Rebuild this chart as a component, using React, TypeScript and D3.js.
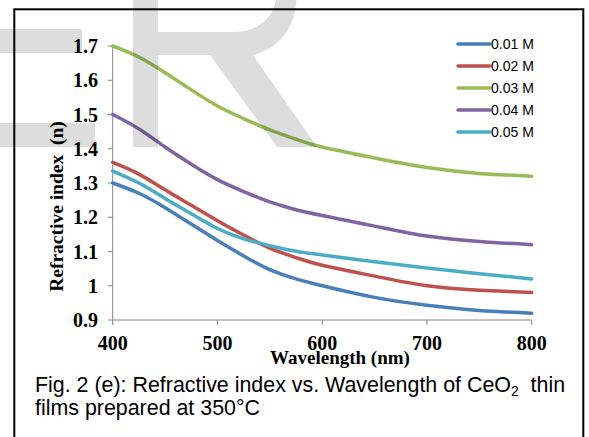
import React from 'react';
import * as d3 from 'd3';

const wavelengths = [400, 425, 450, 475, 500, 525, 550, 575, 600, 650, 700, 750, 800];
const n001 = [1.3, 1.27, 1.228, 1.18, 1.132, 1.087, 1.047, 1.02, 1.0, 0.966, 0.943, 0.928, 0.92];
const n002 = [1.36, 1.326, 1.28, 1.235, 1.19, 1.148, 1.11, 1.082, 1.06, 1.028, 1.0, 0.987, 0.98];
const n003 = [1.7, 1.668, 1.622, 1.572, 1.525, 1.488, 1.455, 1.428, 1.405, 1.373, 1.345, 1.328, 1.32];
const n004 = [1.5, 1.458, 1.405, 1.355, 1.31, 1.275, 1.245, 1.222, 1.205, 1.174, 1.145, 1.129, 1.12];
const n005 = [1.335, 1.3, 1.255, 1.21, 1.167, 1.137, 1.117, 1.101, 1.09, 1.07, 1.052, 1.035, 1.02];

const seriesNames = ['0.01 M', '0.02 M', '0.03 M', '0.04 M', '0.05 M'];
const seriesValues = [n001, n002, n003, n004, n005];
const seriesColors = ['#4a7ebb', '#c0504d', '#9bbb59', '#8064a2', '#4bacc6'];

const yTicks = [0.9, 1.0, 1.1, 1.2, 1.3, 1.4, 1.5, 1.6, 1.7];
const yTickLabels = ['0.9', '1', '1.1', '1.2', '1.3', '1.4', '1.5', '1.6', '1.7'];
const xTicks = [400, 500, 600, 700, 800];
const xTickLabels = ['400', '500', '600', '700', '800'];

const W = 589;
const H = 437;

export default function App() {
  const x = d3.scaleLinear().domain([400, 800]).range([112.7, 531.7]);
  const y = d3.scaleLinear().domain([0.9, 1.7]).range([320, 46]);
  const line = d3
    .line<number>()
    .x((_, i) => x(wavelengths[i]))
    .y((d) => y(d))
    .curve(d3.curveNatural);

  const axisColor = '#868686';
  const serif = '"Liberation Serif", "Times New Roman", serif';
  const sans = '"Liberation Sans", Arial, sans-serif';

  // watermark path (stylised R)
  const rPath =
    'M133,-10 L133,147 L158,147 L158,55 L210,55 L277,147 L317,147 L253,55 ' +
    'C280,48 297,28 297,-10 Z ' +
    'M158,-10 L158,32 L232,32 C262,32 277,14 277,-10 Z';

  return (
    <svg
      width={W}
      height={H}
      style={{ position: 'absolute', left: 0, top: 0, background: '#fff' }}
    >
      <rect x={0} y={0} width={W} height={H} fill="#fff" />

      {/* axes */}
      <line x1={x(400)} x2={x(400)} y1={y(1.7)} y2={y(0.9)} stroke={axisColor} strokeWidth={1} />
      <line x1={x(400)} x2={x(800)} y1={y(0.9)} y2={y(0.9)} stroke={axisColor} strokeWidth={1} />
      {yTicks.map((t) => (
        <line key={'yt' + t} x1={x(400) - 5} x2={x(400)} y1={y(t)} y2={y(t)} stroke={axisColor} strokeWidth={1} />
      ))}
      {xTicks.map((t) => (
        <line key={'xt' + t} x1={x(t)} x2={x(t)} y1={y(0.9)} y2={y(0.9) + 5} stroke={axisColor} strokeWidth={1} />
      ))}

      {/* series */}
      {seriesValues.map((vals, i) => (
        <path
          key={seriesNames[i]}
          d={line(vals) || ''}
          fill="none"
          stroke={seriesColors[i]}
          strokeWidth={3.5}
          strokeLinecap="round"
        />
      ))}

      {/* tick labels */}
      {yTicks.map((t, i) => (
        <text
          key={'yl' + t}
          x={98}
          y={y(t) + 7}
          textAnchor="end"
          fontFamily={serif}
          fontWeight="bold"
          fontSize={20}
          fill="#000"
        >
          {yTickLabels[i]}
        </text>
      ))}
      {xTicks.map((t, i) => (
        <text
          key={'xl' + t}
          x={x(t)}
          y={350}
          textAnchor="middle"
          fontFamily={serif}
          fontWeight="bold"
          fontSize={20}
          fill="#000"
        >
          {xTickLabels[i]}
        </text>
      ))}

      {/* axis titles */}
      <text
        x={340}
        y={364}
        textAnchor="middle"
        fontFamily={serif}
        fontWeight="bold"
        fontSize={19}
        fill="#000"
      >
        Wavelength (nm)
      </text>
      <text
        transform="translate(63,206.5) rotate(-90)"
        textAnchor="middle"
        fontFamily={serif}
        fontWeight="bold"
        fontSize={19.5}
        fill="#000"
        style={{ whiteSpace: 'pre' }}
      >
        {'Refractive index  (n)'}
      </text>

      {/* legend */}
      {seriesNames.map((name, i) => {
        const cy = 44 + i * 22;
        return (
          <g key={'lg' + name}>
            <line x1={458} x2={490} y1={cy} y2={cy} stroke={seriesColors[i]} strokeWidth={3.5} strokeLinecap="round" />
            <text x={491} y={cy + 5} fontFamily={sans} fontSize={14} fill="#000">
              {name}
            </text>
          </g>
        );
      })}

      {/* caption */}
      <text x={35} y={392} fontFamily={sans} fontSize={21.4} fill="#000" style={{ whiteSpace: 'pre' }}>
        {'Fig. 2 (e): Refractive index vs. Wavelength of CeO'}
        <tspan fontSize={14} dy={4}>2</tspan>
        <tspan dy={-4}>{'  thin'}</tspan>
      </text>
      <text x={35} y={415} fontFamily={sans} fontSize={21.4} fill="#000">
        films prepared at 350°C
      </text>

      {/* frame */}
      <rect x={14.3} y={9.3} width={569} height={440} fill="none" stroke="#000" strokeWidth={2} />

      {/* watermark */}
      <g fill="#000" fillOpacity={0.135}>
        <rect x={-2} y={29} width={84} height={24} />
        <rect x={-2} y={123} width={97} height={24} />
        <path d={rPath} fillRule="evenodd" />
      </g>
    </svg>
  );
}
